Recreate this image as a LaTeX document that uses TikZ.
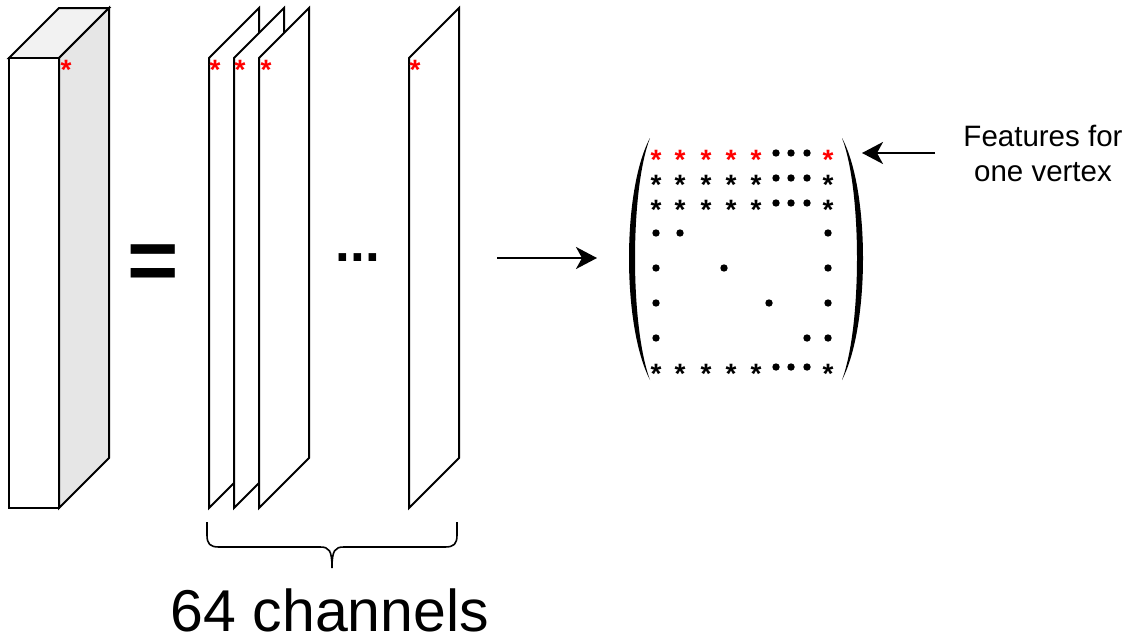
\documentclass[tikz,border=0pt]{standalone}
\usepackage{fontspec}
\setmainfont{Liberation Sans}
\usetikzlibrary{arrows.meta}

\definecolor{topgray}{HTML}{F2F2F2}
\definecolor{sidegray}{HTML}{E6E6E6}

\tikzset{
  star/.style={inner sep=0pt, anchor=base, yshift=-16pt, font=\bfseries\fontsize{28}{28}\selectfont},
  redstar/.style={star, text=red},
  dot/.style={circle, fill=black, inner sep=0pt, minimum size=7.4pt},
  face/.style={draw=black, line width=2pt, line join=miter},
  arr/.style={-{Stealth[length=21pt,width=22pt,inset=6pt]}, line width=2pt}
}

\begin{document}
\begin{tikzpicture}[x=1pt, y=-1pt]
\useasboundingbox (0,0) rectangle (1130,637);
% block of features
\draw [face, fill=topgray] (9,58) -- (59,8) -- (109,8) -- (59,58) -- cycle;
\draw [face, fill=sidegray] (59,58) -- (109,8) -- (109,458) -- (59,508) -- cycle;
\draw [face, fill=white] (9,58) rectangle (59,508);
\node [redstar] (sb) at (66,63) {*};
% equal sign
\node [inner sep=0pt, anchor=base, font=\bfseries\fontsize{88}{88}\selectfont] (eq) at (153,290) {=};
% channel planes
\draw [face, fill=white] (209,58) -- (259,8) -- (259,458) -- (209,508) -- cycle;
\node [redstar] (s1) at (215,63) {*};
\draw [face, fill=white] (234,58) -- (284,8) -- (284,458) -- (234,508) -- cycle;
\node [redstar] (s2) at (240,63) {*};
\draw [face, fill=white] (259,58) -- (309,8) -- (309,458) -- (259,508) -- cycle;
\node [redstar] (s3) at (266,63) {*};
\draw [face, fill=white] (409,58) -- (459,8) -- (459,458) -- (409,508) -- cycle;
\node [redstar] (s64) at (415,63) {*};
\node [inner sep=0pt, anchor=base, font=\bfseries\fontsize{53}{53}\selectfont] (dots) at (358,261) {...};
% brace
\draw [line width=1.6pt] (207,522) -- (207,535) .. controls (207,544) and (210,547) .. (219,547)
  -- (320,547) .. controls (329,547) and (332,550) .. (332,568)
  .. controls (332,550) and (335,547) .. (344,547)
  -- (445,547) .. controls (454,547) and (457,544) .. (457,535) -- (457,522);
\node [inner sep=0pt, anchor=base, font=\fontsize{59}{59}\selectfont] (chan) at (330,631) {64 channels};
% arrow to matrix
\coordinate (planeout) at (497,258);
\coordinate (matin) at (597,258);
\draw [arr] (planeout) -- (matin);
% matrix brackets
\fill (650,138) .. controls (622,190) and (622,326) .. (650,380)
  .. controls (630,326) and (630,190) .. (650,138) -- cycle;
\fill (842,138) .. controls (870,190) and (870,326) .. (842,380)
  .. controls (862,326) and (862,190) .. (842,138) -- cycle;
% matrix entries
\foreach \x/\c in {656/1,680/2,706/3,731/4,756/5,828/9}
  \node [redstar] (m-1-\c) at (\x,153) {*};
\foreach \y/\r in {178/2,203/3,367/8}
  \foreach \x/\c in {656/1,680/2,706/3,731/4,756/5,828/9}
    \node [star] (m-\r-\c) at (\x,\y) {*};
\foreach \y/\r in {153/1,178/2,203/3,367/8}
  \foreach \x/\c in {776/6,791/7,807/8}
    \node [dot] (m-\r-\c) at (\x,\y) {};
\node [dot] (m-4-1) at (656,233) {};
\node [dot] (m-4-2) at (680,233) {};
\node [dot] (m-4-9) at (828,233) {};
\node [dot] (m-5-1) at (656,268) {};
\node [dot] (m-5-4) at (724,268) {};
\node [dot] (m-5-9) at (828,268) {};
\node [dot] (m-6-1) at (656,303) {};
\node [dot] (m-6-6) at (769,303) {};
\node [dot] (m-6-9) at (828,303) {};
\node [dot] (m-7-1) at (656,338) {};
\node [dot] (m-7-8) at (807,338) {};
\node [dot] (m-7-9) at (828,338) {};
% label for one vertex
\node [inner sep=0pt, align=center, font=\fontsize{29.5}{35}\selectfont] (feat) at (1043,153.5) {Features for\\one vertex};
\coordinate (featout) at (935,153);
\coordinate (featin) at (862,153);
\draw [arr] (featout) -- (featin);
\end{tikzpicture}
\end{document}
